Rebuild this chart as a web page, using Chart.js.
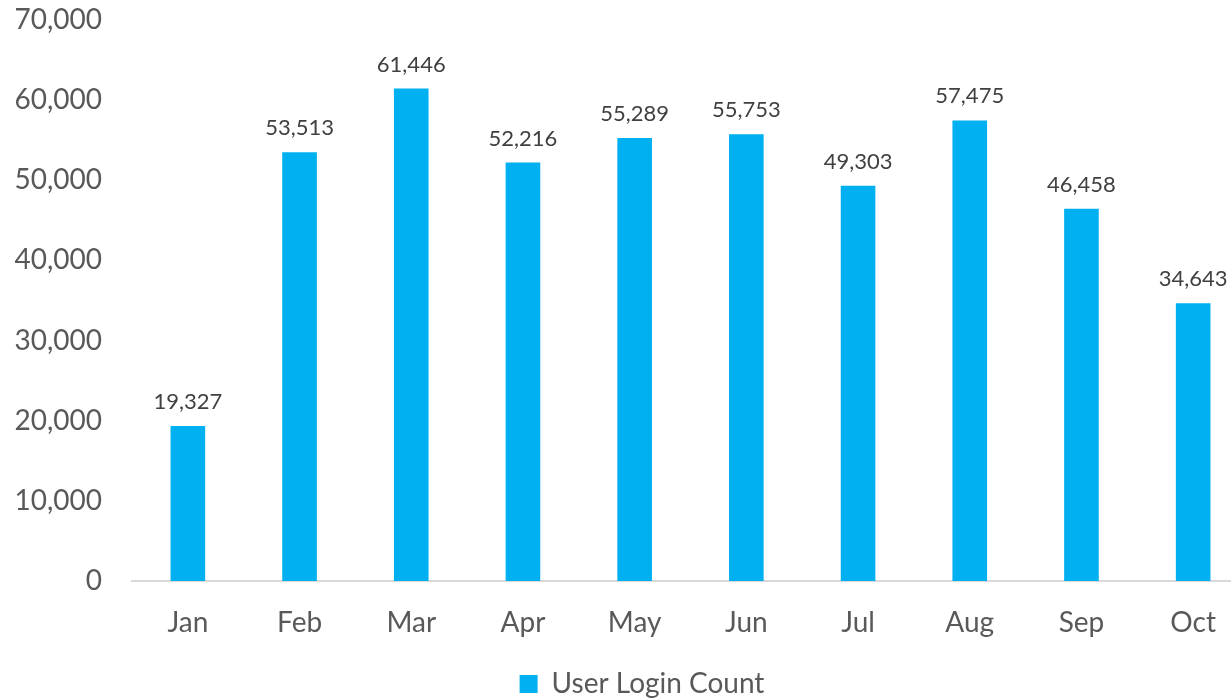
<!DOCTYPE html>
<html>
<head>
<meta charset="utf-8">
<script src="https://cdn.jsdelivr.net/npm/chart.js@4.4.1/dist/chart.umd.min.js"></script>
<style>
  html, body { margin: 0; padding: 0; background: #fff; overflow: hidden; }
  #wrap { width: 1284px; height: 698px; position: relative; }
</style>
</head>
<body>
<div id="wrap"><canvas id="loginChart"></canvas></div>
<script>
const months = ["Jan", "Feb", "Mar", "Apr", "May", "Jun", "Jul", "Aug", "Sep", "Oct"];
const loginCounts = [19327, 53513, 61446, 52216, 55289, 55753, 49303, 57475, 46458, 34643];
const seriesName = "User Login Count";

const fontFamily = "Lato, 'Open Sans', sans-serif";
const textColor = "#595959";

// value labels above each bar
const barLabels = {
  id: "barLabels",
  afterDatasetsDraw(chart) {
    const ctx = chart.ctx;
    const meta = chart.getDatasetMeta(0);
    ctx.save();
    ctx.font = "22px " + fontFamily;
    ctx.fillStyle = "#404040";
    ctx.textAlign = "center";
    ctx.textBaseline = "alphabetic";
    meta.data.forEach((bar, i) => {
      ctx.fillText(loginCounts[i].toLocaleString("en-US"), bar.x, bar.y - 17);
    });
    ctx.restore();
  },
};

new Chart(document.getElementById("loginChart").getContext("2d"), {
  type: "bar",
  data: {
    labels: months,
    datasets: [
      {
        label: seriesName,
        data: loginCounts,
        backgroundColor: "#00B0F0",
        borderWidth: 0,
        barPercentage: 0.31,
        categoryPercentage: 1,
      },
    ],
  },
  options: {
    responsive: true,
    maintainAspectRatio: false,
    animation: false,
    layout: { padding: { top: 0, left: 0, right: 0, bottom: -10 } },
    scales: {
      x: {
        afterFit: (scale) => { scale.height = 89; },
        grid: { display: false, drawTicks: false },
        border: { display: true, color: "#d9d9d9", width: 2 },
        ticks: {
          color: textColor,
          font: { family: fontFamily, size: 28 },
          padding: 25,
        },
      },
      y: {
        min: 0,
        max: 70000,
        afterFit: (scale) => {
          scale.width = 132;
          scale.paddingTop = 20;
          scale.paddingBottom = 0;
        },
        grid: { display: false, drawTicks: false },
        border: { display: false },
        ticks: {
          stepSize: 10000,
          color: textColor,
          padding: 30,
          font: { family: fontFamily, size: 28 },
          callback: (v) => v.toLocaleString("en-US"),
        },
      },
      // empty spacer on the right, keeps the legend centred like the original
      spacer: {
        type: "linear",
        position: "right",
        afterFit: (scale) => { scale.width = 35; },
        grid: { display: false },
        border: { display: false },
        ticks: { display: false },
      },
    },
    plugins: {
      legend: {
        display: true,
        position: "bottom",
        labels: {
          color: textColor,
          font: { family: fontFamily, size: 28 },
          boxWidth: 18,
          boxHeight: 18,
          padding: 0,
        },
      },
      tooltip: { enabled: false },
    },
  },
  plugins: [barLabels],
});
</script>
</body>
</html>
